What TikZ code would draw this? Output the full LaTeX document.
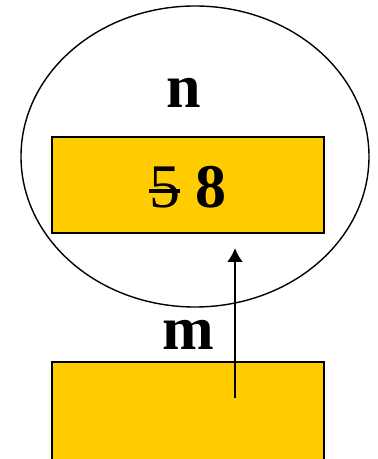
\documentclass[tikz,border=0pt]{standalone}
\usepackage{fontspec}
\setmainfont{Liberation Serif}
\usepackage{tikz}
\usetikzlibrary{arrows.meta}
\definecolor{boxgold}{HTML}{FFCC00}
\newcommand{\crossdigit}[1]{\makebox[0pt][l]{\rule[0.25em]{0.5em}{0.05em}}{#1}}

\begin{document}
\begin{tikzpicture}[x=1pt,y=1pt,every node/.style={font=\fontsize{62}{62}\selectfont\bfseries}]
	\useasboundingbox (0,0) rectangle (378,459);
	% variable n: ellipse with its value box
	\draw[line width=1.4pt] (195,302.5) ellipse (174 and 150.5);
	\node[draw, line width=2pt, fill=boxgold, minimum width=272pt, minimum height=96pt] (nbox) at (188,274) {};
	\node[anchor=base] (nval) at (188,251) {\crossdigit{\mdseries 5} 8};
	\node[anchor=base] (nlabel) at (184,351) {n};
	% variable m: box below, cut by the edge
	\node[draw, line width=2pt, fill=boxgold, minimum width=272pt, minimum height=106pt] (mbox) at (188,44) {};
	\node[anchor=base] (mlabel) at (188,109) {m};
	% reference from m into n
	\coordinate (mref) at (235,61);
	\coordinate (ntip) at (235,211);
	\draw[line width=2.2pt, -{Latex[length=14pt,width=16pt]}] (mref) -- (ntip);
\end{tikzpicture}
\end{document}
